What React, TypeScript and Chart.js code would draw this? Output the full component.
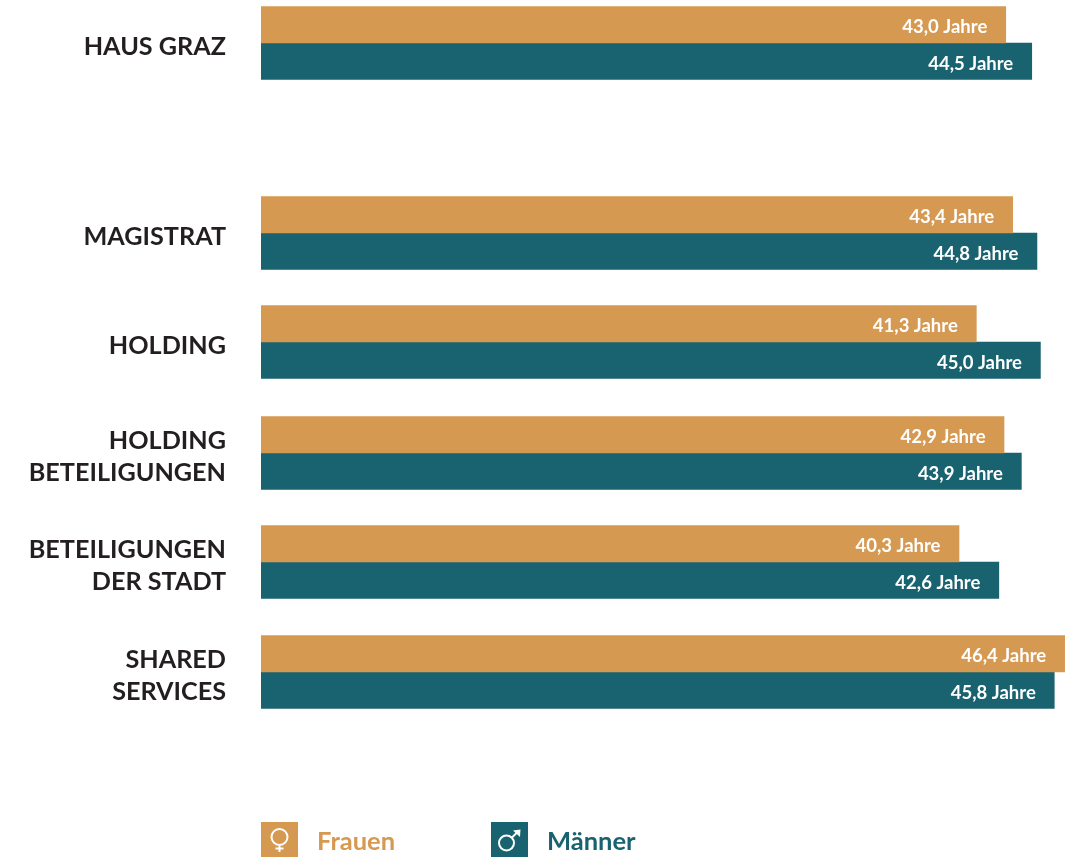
import React, { useEffect, useRef } from "react";
import { Chart, registerables } from "chart.js";

Chart.register(...registerables);

const categories: string[][] = [
  ["HAUS GRAZ"],
  ["MAGISTRAT"],
  ["HOLDING"],
  ["HOLDING", "BETEILIGUNGEN"],
  ["BETEILIGUNGEN", "DER STADT"],
  ["SHARED", "SERVICES"],
];
const rowOffsets = [0, 190, 299, 410, 519, 629];
const frauen = [43.0, 43.4, 41.3, 42.9, 40.3, 46.4];
const maenner = [44.5, 44.8, 45.0, 43.9, 42.6, 45.8];

const ORANGE = "#d69951";
const TEAL = "#196270";
const FONT = "Lato, sans-serif";

const fmt = (v: number) => `${v.toFixed(1).replace(".", ",")} Jahre`;

const valueLabels = {
  id: "valueLabels",
  afterDatasetsDraw(chart: any) {
    const { ctx } = chart;
    ctx.save();
    ctx.fillStyle = "#ffffff";
    ctx.font = `700 18.5px ${FONT}`;
    ctx.textAlign = "right";
    ctx.textBaseline = "middle";
    chart.data.datasets.forEach((ds: any, di: number) => {
      chart.getDatasetMeta(di).data.forEach((bar: any, i: number) => {
        ctx.fillText(fmt(ds.data[i].x), bar.x - 18.5, bar.y + 2.5);
      });
    });
    ctx.restore();
  },
};

function drawFemale(ctx: CanvasRenderingContext2D, x: number, y: number) {
  ctx.beginPath();
  ctx.arc(x + 18.5, y + 15, 8, 0, Math.PI * 2);
  ctx.moveTo(x + 18.5, y + 23);
  ctx.lineTo(x + 18.5, y + 30);
  ctx.moveTo(x + 14.5, y + 26.5);
  ctx.lineTo(x + 22.5, y + 26.5);
  ctx.stroke();
}

function drawMale(ctx: CanvasRenderingContext2D, x: number, y: number) {
  ctx.beginPath();
  ctx.arc(x + 15.5, y + 21, 7.5, 0, Math.PI * 2);
  ctx.moveTo(x + 21, y + 15.5);
  ctx.lineTo(x + 27, y + 9.5);
  ctx.stroke();
  ctx.beginPath();
  ctx.moveTo(x + 29.5, y + 7.5);
  ctx.lineTo(x + 29, y + 15);
  ctx.lineTo(x + 22, y + 8.5);
  ctx.closePath();
  ctx.fill();
}

const symbolLegend = {
  id: "symbolLegend",
  afterDraw(chart: any) {
    const { ctx } = chart;
    const left = chart.chartArea.left;
    const positions = [0, 230];
    const drawers = [drawFemale, drawMale];
    ctx.save();
    chart.data.datasets.forEach((ds: any, i: number) => {
      const x = left + positions[i];
      const y = 822;
      ctx.fillStyle = ds.backgroundColor;
      ctx.fillRect(x, y, 37, 35);
      ctx.fillStyle = "#ffffff";
      ctx.strokeStyle = "#ffffff";
      ctx.lineWidth = 2;
      drawers[i](ctx, x, y);
      ctx.fillStyle = ds.backgroundColor;
      ctx.font = `700 25.5px ${FONT}`;
      ctx.textAlign = "left";
      ctx.textBaseline = "alphabetic";
      ctx.fillText(ds.label, x + 56, 850);
    });
    ctx.restore();
  },
};

export default function App() {
  const ref = useRef<HTMLCanvasElement>(null);
  useEffect(() => {
    const chart = new Chart(ref.current as HTMLCanvasElement, {
      type: "bar",
      data: {
        datasets: [
          {
            label: "Frauen",
            data: rowOffsets.map((y, i) => ({ x: frauen[i], y })),
            backgroundColor: ORANGE,
            barThickness: 36.5,
          },
          {
            label: "Männer",
            data: rowOffsets.map((y, i) => ({ x: maenner[i], y })),
            backgroundColor: TEAL,
            barThickness: 36.5,
          },
        ],
      } as any,
      options: {
        indexAxis: "y",
        animation: false,
        responsive: false,
        maintainAspectRatio: false,
        layout: { padding: 0, autoPadding: false },
        plugins: {
          legend: { display: false },
          title: { display: false },
          tooltip: { enabled: false },
        },
        scales: {
          x: {
            type: "linear",
            display: false,
            min: 0,
            max: 46.94,
          },
          y: {
            type: "linear",
            reverse: true,
            offset: false,
            min: -43,
            max: 814,
            grid: { display: false, drawTicks: false, offset: false },
            border: { display: false },
            afterBuildTicks(scale: any) {
              scale.ticks = rowOffsets.map((value) => ({ value }));
            },
            afterFit(scale: any) {
              scale.width = 261;
              scale.paddingTop = 0;
              scale.paddingBottom = 0;
            },
            ticks: {
              autoSkip: false,
              padding: 35,
              labelOffset: 3.5,
              color: "#231f20",
              font: { family: FONT, size: 25.2, weight: "700", lineHeight: 1.27 },
              callback: (_v: any, i: number) => categories[i],
            },
          },
        },
      } as any,
      plugins: [valueLabels, symbolLegend],
    });
    return () => chart.destroy();
  }, []);
  return (
    <div style={{ position: "absolute", left: 0, top: 0, width: 1074, height: 857, background: "#fff" }}>
      <canvas ref={ref} width={1074} height={857} style={{ display: "block" }} />
    </div>
  );
}
